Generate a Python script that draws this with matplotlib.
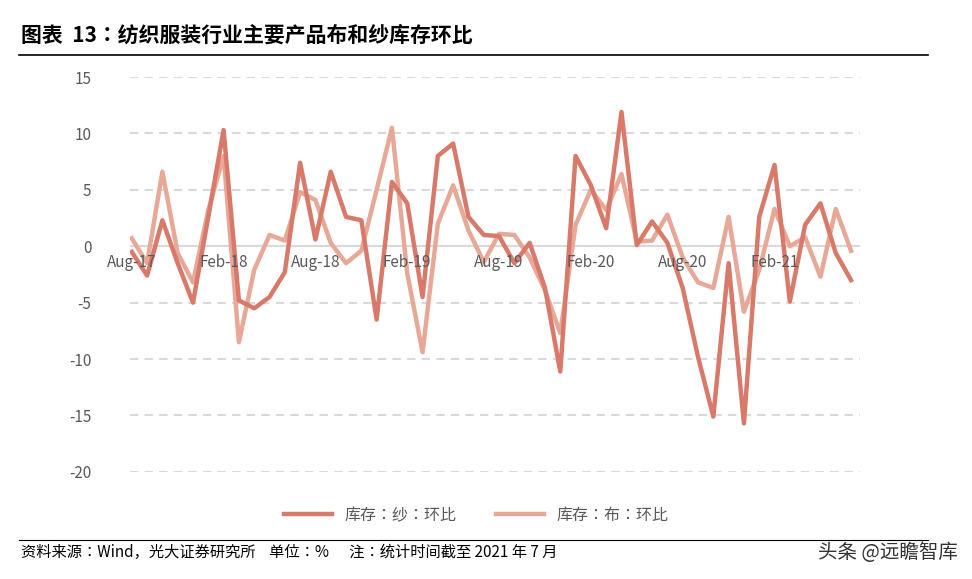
import matplotlib
matplotlib.use("Agg")
import matplotlib.pyplot as plt
from matplotlib import font_manager
import pandas as pd

names = {f.name for f in font_manager.fontManager.ttflist}
cjk = [n for n in ["Noto Sans CJK SC", "Noto Sans CJK JP", "Noto Sans CJK TC", "Noto Sans CJK KR"] if n in names]
plt.rcParams["font.family"] = "sans-serif"
plt.rcParams["font.sans-serif"] = cjk + ["Noto Sans", "DejaVu Sans"]

months = pd.date_range("2017-08-01", "2021-07-01", freq="MS")
yarn = [-0.5, -2.6, 2.3, -1.5, -5.0, 2.6, 10.3, -4.8, -5.5, -4.5, -2.3, 7.4,
        0.6, 6.6, 2.6, 2.3, -6.5, 5.7, 3.8, -4.5, 8.0, 9.1, 2.6, 1.0,
        0.9, -1.5, 0.3, -3.7, -11.1, 8.0, 5.4, 1.6, 11.9, 0.1, 2.2, 0.3,
        -3.7, -9.8, -15.1, -1.5, -15.7, 2.6, 7.2, -4.9, 1.9, 3.8, -0.6, -3.0]
cloth = [0.7, -1.5, 6.6, -0.6, -3.2, 3.2, 8.0, -8.5, -2.1, 1.0, 0.5, 4.8,
         4.1, 0.3, -1.5, -0.4, 5.0, 10.5, -2.4, -9.4, 2.0, 5.4, 1.4, -1.4,
         1.1, 1.0, -1.0, -3.9, -7.7, 1.9, 5.0, 3.2, 6.4, 0.4, 0.5, 2.8,
         -1.0, -3.2, -3.7, 2.6, -5.8, -2.1, 3.3, 0.0, 0.8, -2.7, 3.3, -0.4]
yticks = [15, 10, 5, 0, -5, -10, -15, -20]

fig = plt.figure(figsize=(9.72, 5.79), dpi=100)
ax = fig.add_axes([0.134, 0.185, 0.751, 0.682])
x = list(range(len(months)))
ax.plot(x, cloth, color="#E8A898", lw=3.2, label="库存：布：环比", zorder=2)
ax.plot(x, yarn, color="#D9796A", lw=3.2, label="库存：纱：环比", zorder=3)
ax.set_ylim(-20, 15)
ax.set_xlim(-0.1, 47.6)
ax.set_yticks(yticks)
ax.set_yticklabels([str(v) for v in yticks], color="#595959", fontsize=11)
for v in yticks:
    if v != 0:
        ax.axhline(v, color="#D9D9D9", lw=1.5, ls=(0, (4, 3)), zorder=0)
ax.axhline(0, color="#D9D9D9", lw=1.5, zorder=1)
ax.set_xticks([])
for i in range(0, 48, 6):
    ax.text(i, -0.7, months[i].strftime("%b-%y"), ha="center", va="top",
            fontsize=11, color="#595959", zorder=4)
for s in ax.spines.values():
    s.set_visible(False)
ax.tick_params(axis="y", length=0, pad=28)
h, l = ax.get_legend_handles_labels()
fig.legend(h[::-1], l[::-1], loc="center", bbox_to_anchor=(0.49, 0.11), ncol=2,
           frameon=False, fontsize=11.5, handlelength=3, columnspacing=2.5,
           labelcolor="#595959")
fig.text(0.022, 0.94, "图表  13：纺织服装行业主要产品布和纱库存环比", fontsize=15,
         fontweight="bold", va="center")
fig.add_artist(plt.Line2D([0.02, 0.955], [0.905, 0.905], color="black", lw=1.2))
fig.add_artist(plt.Line2D([0.02, 0.955], [0.068, 0.068], color="black", lw=0.8))
fig.text(0.022, 0.045, "资料来源：Wind，光大证券研究所    单位：%      注：统计时间截至 2021 年 7 月",
         fontsize=11, va="center")
fig.text(0.985, 0.045, "头条 @远瞻智库", fontsize=14, va="center", ha="right", color="#333333")
fig.savefig("out.png", dpi=100)
